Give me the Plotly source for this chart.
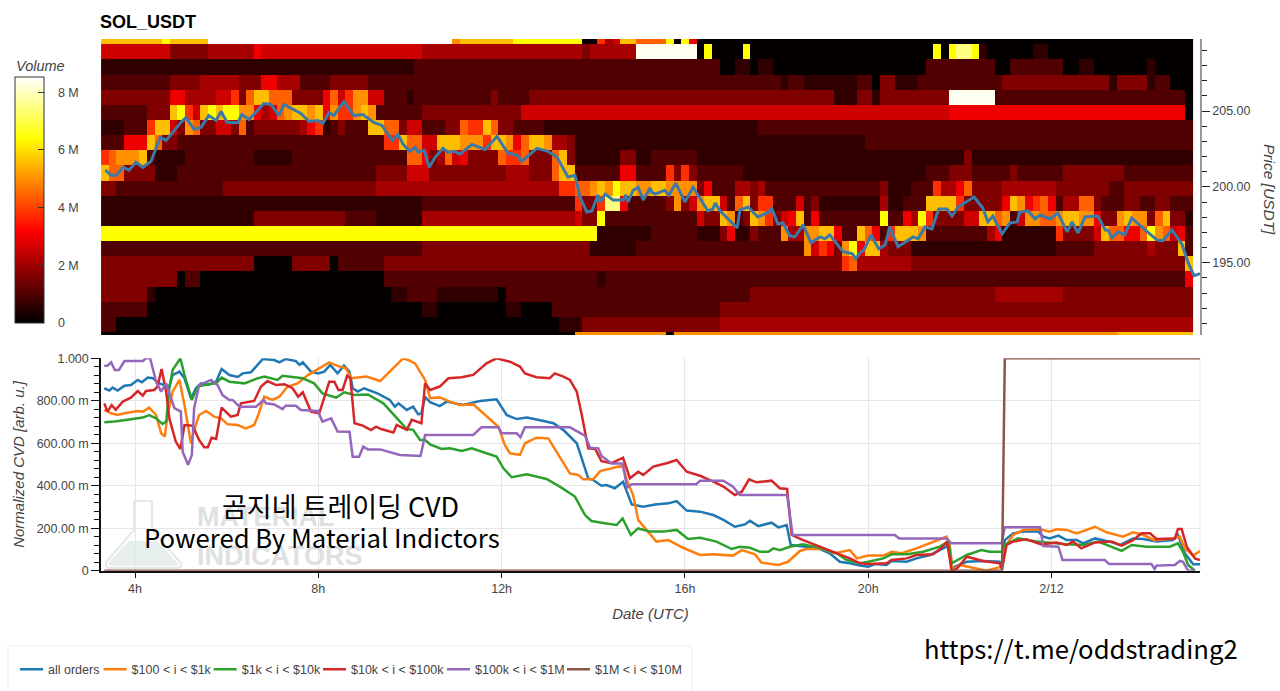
import numpy as np
import plotly.graph_objects as go

W, H = 1280, 691
def fx(p): return p / W
def fy(p): return 1 - p / H

TITLE = "SOL_USDT"
VOLUME_TICKS = [0, 2e6, 4e6, 6e6, 8e6]
VOLUME_LABELS = ["0", "2 M", "4 M", "6 M", "8 M"]
VOLUME_MAX = 8.53e6
TIME_TICKS = [4, 8, 12, 16, 20, 24]
TIME_LABELS = ["4h", "8h", "12h", "16h", "20h", "2/12"]
PRICE_TICKS = [195, 200, 205]
PRICE_LABELS = ["195.00", "200.00", "205.00"]
CVD_TICKS = [0, 0.2, 0.4, 0.6, 0.8, 1.0]
CVD_LABELS = ["0", "200.00 m", "400.00 m", "600.00 m", "800.00 m", "1.000"]

# Volume (in millions), by colour class
VOLUME_M = {"0": 0.05, "1": 0.6, "2": 1.0, "3": 1.6, "4": 2.1, "5": 2.6, "6": 3.0, "7": 3.8,
            "8": 4.4, "9": 5.0, "a": 5.6, "b": 6.4, "c": 7.45, "d": 8.4, "N": None}

PRICE_BINS = [209.9 - k for k in range(21)]
N_COLS = 143
FIRST_HOUR = 3.26 + 1 / 12

# One text per price bin, top to bottom: "count:class" runs of 10 minute columns
HEAT_RUNS = [
 "8:a 1:b 5:a 32:N 1:9 7:a 9:b 2:0 1:7 1:4 1:5 2:a 4:8 1:b 1:0 1:b 1:6 65:0",
 "9:5 5:3 6:4 1:6 21:5 21:4 1:3 6:4 8:d 1:0 1:b 4:0 1:b 24:0 1:b 1:0 1:b 2:c 1:b 1:1 6:0 2:1 19:0",
 "41:1 40:2 2:0 2:1 1:0 2:1 20:0 9:2 2:0 7:2 2:0 2:1 7:0 1:1 5:0",
 "9:2 4:3 5:4 3:3 2:6 3:4 4:2 5:3 54:2 1:1 2:2 7:1 2:2 1:0 2:3 3:1 4:2 6:2 1:2 14:3 1:1 4:3 1:1 2:2 3:0",
 "9:3 2:6 4:4 2:5 1:7 1:3 1:8 2:a 3:8 4:3 1:6 1:8 1:5 1:7 2:9 2:5 3:2 1:1 1:2 9:2 1:3 4:2 40:3 3:1 2:3 1:1 9:3 6:d 1:2 23:2 1:2 1:0",
 "6:2 3:3 1:a 1:b 1:7 1:5 1:a 1:b 1:a 2:b 2:9 1:6 1:4 1:5 1:8 1:9 2:a 1:9 1:a 1:6 1:9 2:7 1:9 1:a 1:9 6:2 13:3 56:5 31:6 1:0",
 "3:1 3:2 1:7 2:a 1:5 1:3 1:9 1:8 2:3 2:5 1:3 1:8 1:2 6:3 1:4 1:6 1:7 1:1 1:2 1:3 3:2 2:a 2:8 1:3 2:5 3:2 2:3 1:8 2:7 1:a 1:8 2:3 4:2 28:1 57:2",
 "3:2 3:6 1:a 1:8 2:3 27:2 2:7 1:a 2:8 2:5 3:a 3:9 1:7 2:a 1:9 1:6 1:8 2:a 1:9 2:4 1:3 38:1 43:2",
 "1:7 1:8 3:9 1:a 1:2 4:1 9:2 5:1 15:2 2:8 1:6 1:3 1:4 1:8 1:5 1:6 4:3 1:8 2:7 1:8 3:3 1:8 1:a 1:3 6:1 2:3 2:1 6:2 35:1 1:3 29:1",
 "1:a 2:8 4:3 3:1 26:2 4:3 3:5 10:3 3:4 3:3 1:8 2:a 6:2 2:6 4:2 1:7 1:3 1:7 1:3 6:2 24:1 3:2 3:3 5:2 1:3 6:2 8:3 9:2",
 "2:3 14:2 20:3 24:4 2:7 2:8 1:9 1:a 1:9 1:b 2:a 2:9 2:a 4:9 1:3 1:6 3:2 2:4 1:3 1:4 15:2 1:3 3:1 3:2 1:7 2:4 1:6 1:8 4:3 7:4 7:3 2:2 9:3",
 "42:1 20:2 1:7 2:3 1:7 2:c 1:6 5:2 1:3 1:9 1:3 1:5 1:9 2:a 1:5 1:2 1:8 1:a 1:3 2:7 3:2 1:5 1:2 1:3 8:1 1:4 2:1 3:2 4:a 1:7 5:3 1:6 1:a 1:9 1:6 1:7 1:8 1:6 1:2 2:4 2:8 1:3 3:2 2:3 2:2 2:3 3:2",
 "20:1 12:3 4:2 6:1 20:4 1:5 2:3 1:b 12:2 1:5 2:3 1:a 1:9 1:2 1:3 1:a 1:9 1:7 1:3 1:5 1:6 1:a 1:2 1:6 8:2 1:b 2:2 1:6 1:4 1:b 1:7 4:3 2:5 2:a 1:8 1:9 1:2 1:5 2:9 2:8 1:9 2:a 2:9 1:6 2:3 1:9 1:a 2:9 1:3 1:8 1:a 2:3 1:1",
 "65:b 7:1 6:2 3:1 1:3 1:6 2:1 1:3 3:2 1:9 2:4 2:9 2:a 1:6 2:2 1:a 1:8 1:6 1:2 1:7 3:a 1:9 8:2 1:4 1:6 7:1 1:7 4:3 1:5 1:a 2:8 2:6 1:8 1:b 1:9 1:8 1:5 1:6 1:2",
 "42:2 22:3 6:1 22:2 1:9 1:5 1:7 1:6 1:3 1:9 1:b 1:6 2:a 1:4 3:3 19:1 5:2 7:3 1:4 3:3 1:a 1:2",
 "20:3 5:0 5:3 1:0 6:2 37:3 23:3 1:7 1:8 7:4 36:3 1:a",
 "10:3 1:0 2:2 24:0 28:2 1:1 25:2 51:2 1:6",
 "6:3 1:1 31:0 2:1 4:2 8:1 1:0 32:2 32:3 9:4 17:3",
 "6:2 36:0 2:1 9:0 2:1 4:0 22:2 62:3",
 "2:2 58:0 3:1 18:3 62:4",
 "62:0 12:9 1:0 58:9 10:a",
]

PRICE_HOURS = [3.35,3.48,3.59,3.74,3.87,4.02,4.17,4.35,4.55,4.68,5.00,5.11,5.29,5.44,5.61,5.77,5.88,6.01,6.25,6.33,6.49,6.81,6.97,7.14,7.25,7.62,7.80,7.99,8.10,8.23,8.34,8.56,8.78,8.97,9.21,9.39,9.61,9.74,9.85,10.00,10.11,10.18,10.31,10.42,10.55,10.72,10.83,10.98,11.09,11.35,11.64,11.90,12.14,12.34,12.44,12.77,13.01,13.21,13.45,13.60,13.71,13.86,13.97,14.10,14.15,14.26,14.43,14.65,14.71,14.76,14.87,14.98,15.09,15.24,15.28,15.35,15.56,15.65,15.80,16.00,16.18,16.50,16.61,16.66,16.77,17.14,17.20,17.38,17.59,17.79,17.90,18.03,18.14,18.29,18.40,18.58,18.75,18.95,19.06,19.16,19.45,19.65,19.73,19.82,19.91,20.06,20.23,20.37,20.47,20.65,20.98,21.09,21.24,21.39,21.54,21.72,21.83,21.96,22.31,22.50,22.61,22.72,22.92,23.09,23.25,23.31,23.49,23.64,23.75,23.97,24.14,24.34,24.45,24.58,24.73,25.01,25.17,25.23,25.32,25.45,25.60,25.75,26.04,26.30,26.43,26.63,26.85,26.98,27.11,27.24]
PRICE_USDT = [201.10,200.77,200.77,201.29,201.10,201.62,201.29,201.69,203.26,203.06,204.25,204.57,203.79,203.92,204.70,204.38,204.97,204.25,204.25,204.77,204.44,205.49,205.43,204.70,205.43,204.84,204.31,204.38,204.18,204.90,204.70,205.62,204.70,204.77,204.25,204.05,203.06,203.46,202.80,202.34,202.61,202.28,202.41,201.29,201.95,202.54,202.28,202.34,202.15,202.80,202.47,203.33,202.21,202.08,201.69,202.54,202.34,201.95,200.64,200.77,199.33,198.34,198.41,199.46,199.00,199.52,199.13,199.13,199.46,199.00,199.78,199.98,199.13,199.92,199.65,199.52,199.78,199.46,200.24,199.00,199.98,198.41,198.54,198.93,198.41,197.29,198.47,198.67,198.01,198.28,198.54,197.55,197.62,196.77,196.70,197.49,196.31,196.70,196.57,196.83,195.72,195.59,195.26,195.65,195.85,196.83,195.91,196.18,197.36,196.05,196.70,196.57,197.36,197.23,198.54,198.54,198.08,198.67,199.33,198.60,197.69,198.08,196.90,197.62,197.69,198.34,198.41,197.88,198.14,197.88,198.28,197.03,197.69,196.96,198.01,198.08,197.16,197.16,196.64,197.03,196.83,197.95,197.16,196.50,196.44,197.16,196.18,195.00,194.14,194.27]

ALL_H = [3.33,3.44,3.51,3.62,3.77,3.91,4.06,4.15,4.28,4.39,4.53,4.75,4.82,4.97,5.08,5.22,5.33,5.44,5.59,5.77,5.89,6.06,6.24,6.35,6.53,6.64,6.79,7.04,7.15,7.29,7.51,7.59,7.66,7.84,7.99,8.13,8.26,8.42,8.56,8.68,8.75,8.86,9.00,9.29,9.56,9.67,9.75,9.93,10.07,10.18,10.25,10.33,10.44,10.65,10.80,11.16,11.53,11.89,12.11,12.33,12.55,12.84,13.13,13.35,13.64,13.89,14.0,14.18,14.29,14.47,14.65,14.84,15.09,15.35,15.64,15.82,16.04,16.33,16.62,16.84,17.09,17.31,17.42,17.6,17.89,18.04,18.22,18.31,18.65,18.95,19.16,19.38,19.6,19.82,20,20.15,20.4,20.51,20.84,21.05,21.35,21.71,21.75,21.82,21.89,22.15,22.51,22.87,22.92,22.98,23.16,23.38,23.71,23.82,23.96,24.15,24.33,24.55,24.69,24.95,25.27,25.49,25.78,26.0,26.29,26.65,26.76,26.91,27.09,27.24]
ALL_V = [.859,.848,.862,.848,.871,.874,.898,.887,.909,.906,.882,.867,.921,.937,.906,.812,.859,.882,.874,.890,.950,.921,.912,.929,.934,.961,.997,.992,.981,.997,.987,.969,.981,.937,.929,.937,.969,.929,.965,.937,.859,.843,.859,.835,.804,.772,.788,.757,.772,.736,.741,.819,.793,.775,.796,.780,.799,.807,.733,.714,.721,.708,.694,.662,.600,.435,.427,.400,.403,.388,.419,.312,.301,.312,.317,.328,.283,.278,.262,.239,.207,.218,.235,.210,.226,.204,.215,.121,.113,.102,.082,.042,.035,.024,.019,.031,.027,.046,.042,.058,.074,.113,.144,0,.019,.042,.046,.042,.027,.144,.176,.184,.184,.160,.152,.165,.144,.144,.129,.152,.137,.121,.152,.149,.137,.144,.168,.082,.030,.030]

O100_H = [3.33,3.48,3.62,3.77,4.06,4.17,4.31,4.46,4.57,4.65,4.71,4.82,4.97,5.08,5.22,5.29,5.40,5.55,5.73,5.88,6.02,6.24,6.42,6.60,6.69,6.82,7.0,7.15,7.33,7.55,7.77,7.95,8.24,8.46,8.6,8.73,9.05,9.35,9.6,9.85,9.96,10.11,10.33,10.44,10.65,10.87,11.09,11.38,11.6,11.93,12.07,12.18,12.4,12.51,12.76,13.02,13.24,13.49,13.67,13.78,14.0,14.15,14.65,14.73,14.87,14.98,15.16,15.38,15.64,15.96,16.33,16.62,17.05,17.24,17.53,17.67,18.04,18.25,18.51,18.65,19.02,19.27,19.6,19.75,20,20.33,20.51,20.73,21.05,21.42,21.71,21.78,21.84,22.0,22.36,22.58,22.91,22.96,23.16,23.38,23.75,23.96,24.11,24.33,24.55,24.95,25.2,25.56,25.78,26.0,26.25,26.65,26.8,26.91,27.09,27.24]
O100_V = [.757,.741,.733,.741,.752,.749,.768,.733,.647,.631,.733,.843,.898,.780,.600,.662,.733,.752,.725,.717,.689,.686,.670,.686,.733,.819,.804,.819,.867,.882,.921,.945,.981,.961,.953,.906,.914,.893,.945,1.0,.992,.976,.898,.812,.816,.796,.780,.783,.741,.678,.592,.553,.545,.600,.626,.623,.545,.458,.451,.430,.430,.469,.495,.427,.356,.239,.192,.137,.144,.108,.074,.077,.071,.097,.077,.038,.027,.042,.093,.102,.102,.082,.097,.058,.071,.071,.089,.082,.105,.137,.160,.121,0,.027,.008,0,.019,.105,.168,.192,.195,.184,.195,.192,.176,.207,.181,.160,.181,.168,.144,.152,.160,.105,.071,.093]

K1_H = [3.33,3.55,3.8,4.06,4.17,4.31,4.46,4.6,4.68,4.75,4.82,4.99,5.08,5.24,5.37,5.59,5.77,5.89,6.06,6.39,6.64,6.82,7.11,7.22,7.66,7.91,8.09,8.39,8.57,8.79,9.08,9.42,9.75,9.93,10.07,10.22,10.33,10.44,10.69,10.87,11.13,11.35,11.67,11.89,12.04,12.22,12.55,12.98,13.27,13.6,13.82,13.96,14.25,14.51,14.64,14.82,14.98,15.24,15.53,15.82,16.07,16.33,16.69,17.02,17.2,17.42,17.64,17.82,17.93,18.07,18.29,18.58,18.98,19.31,19.53,19.82,20,20.33,20.51,20.84,21.2,21.56,21.75,21.82,22.15,22.47,22.65,22.91,22.98,23.27,23.67,24.04,24.33,24.69,25.02,25.53,25.75,26.07,26.58,26.76,26.87,26.98,27.13]
K1_V = [.699,.702,.710,.717,.721,.733,.717,.691,.702,.859,.945,1.0,.921,.804,.867,.878,.882,.909,.890,.882,.903,.914,.898,.918,.906,.882,.835,.815,.840,.827,.830,.788,.710,.667,.663,.615,.615,.595,.573,.576,.564,.576,.553,.537,.482,.440,.454,.432,.396,.349,.262,.234,.223,.215,.246,.168,.199,.184,.184,.192,.149,.155,.137,.102,.113,.108,.089,.089,.105,.097,.113,.124,.105,.082,.050,.035,.042,.058,.077,.077,.089,.113,.137,.035,.074,.097,.089,.089,.121,.152,.137,.129,.124,.121,.137,.093,.121,.113,.113,.129,.089,.027,0]

K10_H = [3.33,3.4,3.49,3.58,3.73,3.91,4.06,4.17,4.24,4.42,4.49,4.58,4.68,4.75,4.89,4.99,5.08,5.26,5.4,5.51,5.59,5.67,5.77,5.89,6.09,6.24,6.31,6.6,6.75,6.89,7.08,7.26,7.44,7.56,7.66,7.84,8.02,8.13,8.24,8.35,8.44,8.53,8.63,8.7,8.79,8.97,9.15,9.26,9.37,9.64,9.71,9.93,10.04,10.25,10.33,10.44,10.65,10.84,11.13,11.38,11.67,11.89,12.18,12.4,12.51,12.76,13.05,13.16,13.35,13.49,13.64,13.75,13.89,14.04,14.18,14.4,14.65,14.8,14.98,15.09,15.31,15.6,15.82,16.04,16.33,16.62,16.84,17.09,17.24,17.4,17.56,17.89,18.07,18.23,18.33,18.58,18.95,19.24,19.6,19.82,20,20.4,20.51,20.84,21.05,21.42,21.6,21.72,21.82,21.93,22.15,22.51,22.87,22.92,23.02,23.16,23.45,23.78,24.11,24.33,24.47,24.65,24.95,25.31,25.53,25.78,25.96,26.15,26.29,26.69,26.76,26.84,26.95,27.13,27.24]
K10_V = [.788,.749,.780,.757,.796,.815,.846,.824,.846,.851,.867,.950,.843,.717,.608,.573,.686,.683,.615,.581,.581,.626,.620,.768,.725,.733,.788,.799,.867,.893,.874,.878,.859,.819,.840,.749,.741,.819,.890,.890,.851,.851,.918,.906,.694,.683,.662,.678,.667,.651,.686,.663,.710,.694,.882,.851,.867,.906,.911,.922,.976,1.0,.984,.961,.929,.911,.906,.929,.914,.898,.843,.733,.576,.573,.516,.506,.532,.435,.466,.451,.490,.506,.521,.466,.447,.419,.396,.356,.372,.430,.416,.424,.388,.385,.168,.144,.113,.089,.058,.035,.031,.035,.050,.058,.074,.077,.108,.137,0,.008,.066,.046,.035,.008,.121,.137,.148,.124,.133,.121,.137,.105,.133,.137,.118,.144,.176,.176,.149,.152,.196,.196,.113,.058,.050]

K100_H = [3.33,3.4,3.48,3.56,3.65,3.77,4.17,4.24,4.33,4.46,4.57,4.68,4.75,4.86,5.0,5.04,5.16,5.24,5.29,5.4,5.66,5.8,5.91,6.06,6.13,6.28,6.64,6.81,6.86,7.04,7.22,7.29,7.51,7.62,7.99,8.09,8.28,8.42,8.68,8.75,8.89,8.98,9.08,9.35,9.78,10.23,10.33,11.38,11.56,11.93,12,12.33,12.41,12.51,13.49,13.82,13.93,14.11,14.18,14.4,14.64,14.74,14.84,16.25,16.33,16.84,17.05,17.2,18.23,18.35,20.58,20.68,21.71,21.82,22.91,22.98,23.75,23.82,24.15,24.24,25.16,25.26,26.18,26.25,26.29,26.69,26.8,26.87,26.98,27.13]
K100_V = [.965,.965,.981,.945,.945,.987,.987,1.0,1.0,.890,.843,.882,.835,.765,.749,.560,.498,.545,.765,.874,.898,.874,.827,.804,.804,.772,.772,.804,.788,.783,.761,.777,.777,.757,.752,.702,.717,.655,.654,.537,.537,.584,.571,.571,.545,.540,.639,.639,.675,.675,.647,.647,.628,.675,.675,.636,.579,.576,.540,.505,.505,.391,.407,.407,.424,.424,.396,.356,.356,.168,.168,.152,.152,.129,.129,.204,.204,.116,.113,.050,.050,.031,.031,.008,.024,.027,.046,.042,0,0]

M1_H = [3.33,22.92,22.98,27.24]
M1_V = [0,0,1.0,1.0]

SERIES = [
    ("all orders", ALL_H, ALL_V, "#1f77b4"),
    ("$100 < i < $1k", O100_H, O100_V, "#ff7f0e"),
    ("$1k < i < $10k", K1_H, K1_V, "#2ca02c"),
    ("$10k < i < $100k", K10_H, K10_V, "#d62728"),
    ("$100k < i < $1M", K100_H, K100_V, "#9467bd"),
    ("$1M < i < $10M", M1_H, M1_V, "#8c564b"),
]
LEGEND_LEFT = [8, 91.6, 201.7, 311, 435, 555]

def expand(runs):
    out = []
    for tok in runs.split():
        n, lev = tok.split(":")
        v = VOLUME_M[lev]
        out += [np.nan if v is None else v * 1e6] * int(n)
    return (out + [out[-1]] * N_COLS)[:N_COLS]

z = [expand(r) for r in HEAT_RUNS]
heat_x = [FIRST_HOUR + c / 6 for c in range(N_COLS)]

FONT = "Liberation Sans, Arial, sans-serif"
CJK = "Noto Sans CJK KR, sans-serif"
TXT = "#444444"
X_RANGE = [3.258, 27.24]

fig = go.Figure()
fig.add_trace(go.Heatmap(
    x=heat_x, y=PRICE_BINS, z=z, xaxis="x", yaxis="y", zmin=0, zmax=VOLUME_MAX,
    hoverongaps=False, showlegend=False,
    colorscale=[[0, "#000000"], [0.375, "#ff0000"], [0.75, "#ffff00"], [1, "#ffffff"]],
    colorbar=dict(
        x=fx(15), xanchor="left", xpad=0, ypad=0, y=fy(77), yanchor="top",
        thickness=29, thicknessmode="pixels", len=246, lenmode="pixels",
        outlinecolor="#333333", outlinewidth=1,
        tickmode="array", tickvals=VOLUME_TICKS,
        ticktext=["\u00a0\u00a0\u00a0" + t for t in VOLUME_LABELS],
        ticks="inside", ticklen=6, tickcolor="#333333", tickwidth=1,
        tickfont=dict(family=FONT, size=12.5, color=TXT),
    ),
))
fig.add_trace(go.Scatter(
    x=PRICE_HOURS, y=PRICE_USDT, xaxis="x", yaxis="y", mode="lines", showlegend=False,
    line=dict(color="#3b7aa8", width=3), cliponaxis=False,
))
legends = {}
for i, (name, hrs, vals, col) in enumerate(SERIES):
    key = "legend" if i == 0 else f"legend{i + 1}"
    fig.add_trace(go.Scatter(x=hrs, y=vals, xaxis="x2", yaxis="y2", mode="lines", name=name,
                             legend=key, line=dict(color=col, width=2.5)))
    legends[key] = dict(x=fx(LEGEND_LEFT[i]), y=fy(669.5), xanchor="left", yanchor="middle",
                        bgcolor="rgba(0,0,0,0)", borderwidth=0, itemwidth=30,
                        font=dict(family=FONT, size=12.5, color=TXT))

F = lambda x, y: f"{fx(x):.5f},{fy(y):.5f}"
flask_outline = ("M" + F(134, 501) + " L" + F(152, 501) + " L" + F(152, 530) + " L" + F(181, 563)
                 + " Q" + F(183, 568) + " " + F(176, 568) + " L" + F(111, 568) + " Q" + F(103, 568)
                 + " " + F(107, 561) + " L" + F(134, 530) + " Z")
flask_liquid = ("M" + F(129, 541) + " L" + F(157, 541) + " L" + F(178, 563) + " Q" + F(180, 566)
                + " " + F(175, 566) + " L" + F(112, 566) + " Q" + F(106, 566) + " " + F(110, 561) + " Z")

shapes = [
    dict(type="path", xref="paper", yref="paper", path=flask_outline, line=dict(color="#e3e8e8", width=2), layer="below"),
    dict(type="path", xref="paper", yref="paper", path=flask_liquid, fillcolor="#e6eeee", line=dict(width=0), layer="below"),
    dict(type="line", xref="paper", yref="paper", x0=fx(1200), x1=fx(1200), y0=fy(358), y1=fy(570.7),
         line=dict(color="#e6e6e6", width=1), layer="below"),
    dict(type="rect", xref="paper", yref="paper", x0=fx(8), x1=fx(692), y0=fy(646), y1=fy(700),
         line=dict(color="#eeeeee", width=1), layer="below"),
]

def note(text, x, y, font, angle=0, xanchor="center"):
    return dict(text=text, x=fx(x), y=fy(y), xref="paper", yref="paper", showarrow=False,
                xanchor=xanchor, yanchor="middle", textangle=angle, font=font)

WM = dict(family="Liberation Sans Narrow, " + FONT, size=27, color="#dde1e1", weight="bold")
annotations = [
    note("Volume", 40, 66, dict(family=FONT, size=14.5, color=TXT, style="italic")),
    note("Price [USDT]", 1269, 189, dict(family=FONT, size=15.5, color=TXT, style="italic"), angle=90),
    note("MATERIAL", 195, 517, WM, xanchor="left"),
    note("INDICATORS", 195, 556, WM, xanchor="left"),
    note("곰지네 트레이딩 CVD", 340, 505, dict(family=CJK, size=27, color="#000000")),
    note("Powered By Material Indictors", 322, 536, dict(family=CJK, size=25.7, color="#000000")),
    note("https://t.me/oddstrading2", 1081, 647, dict(family=CJK, size=25.7, color="#000000")),
]

fig.update_layout(
    width=W, height=H, autosize=False, paper_bgcolor="white", plot_bgcolor="white",
    margin=dict(l=0, r=0, t=0, b=0, autoexpand=False),
    title=dict(text="<b>" + TITLE + "</b>", x=fx(100), y=fy(22), xanchor="left", yanchor="middle",
               xref="paper", yref="paper", font=dict(family=FONT, size=18, color="#000000")),
    xaxis=dict(domain=[fx(101), fx(1200)], range=X_RANGE, anchor="y", visible=False),
    yaxis=dict(domain=[fy(335), fy(39)], range=[190.23, 209.75], anchor="x", side="right",
               tickmode="array", tickvals=PRICE_TICKS, ticktext=PRICE_LABELS,
               showgrid=False, zeroline=False, showline=True, linecolor="#999999", linewidth=1.5,
               ticks="outside", ticklen=8, tickcolor="#222222", tickwidth=1,
               minor=dict(dtick=1, tick0=0, ticks="outside", ticklen=5, tickcolor="#222222", showgrid=False),
               tickfont=dict(family=FONT, size=12.5, color=TXT)),
    xaxis2=dict(domain=[fx(101), fx(1200)], range=X_RANGE, anchor="y2",
                tickmode="array", tickvals=TIME_TICKS, ticktext=TIME_LABELS,
                showgrid=True, gridcolor="#e6e6e6", gridwidth=1, zeroline=False,
                showline=True, linecolor="#111111", linewidth=1.5,
                ticks="outside", ticklen=6, tickcolor="#111111",
                tickfont=dict(family=FONT, size=12.5, color=TXT),
                title=dict(text="Date (UTC)", standoff=13, font=dict(family=FONT, size=15, color=TXT, style="italic"))),
    yaxis2=dict(domain=[fy(570.7), fy(358.3)], range=[0, 1], anchor="x2",
                tickmode="array", tickvals=CVD_TICKS, ticktext=CVD_LABELS,
                showgrid=True, gridcolor="#e6e6e6", gridwidth=1, zeroline=False,
                showline=True, linecolor="#111111", linewidth=1.5,
                ticks="outside", ticklen=8, tickcolor="#111111",
                minor=dict(dtick=0.04, tick0=0, ticks="outside", ticklen=5, tickcolor="#111111", showgrid=False),
                tickfont=dict(family=FONT, size=12.5, color=TXT),
                title=dict(text="Normalized CVD [arb. u.]", standoff=8,
                           font=dict(family=FONT, size=15, color=TXT, style="italic"))),
    shapes=shapes, annotations=annotations,
    **legends,
)

POST = """
document.body.style.margin = '0';
function shortenLegendLines() {
  document.querySelectorAll('.legendlines path').forEach(function (p) { p.setAttribute('d', 'M12,0h23'); });
}
shortenLegendLines();
setTimeout(shortenLegendLines, 50);
setTimeout(shortenLegendLines, 300);
"""
fig.write_html("out.html", config=dict(displayModeBar=False), post_script=POST)
